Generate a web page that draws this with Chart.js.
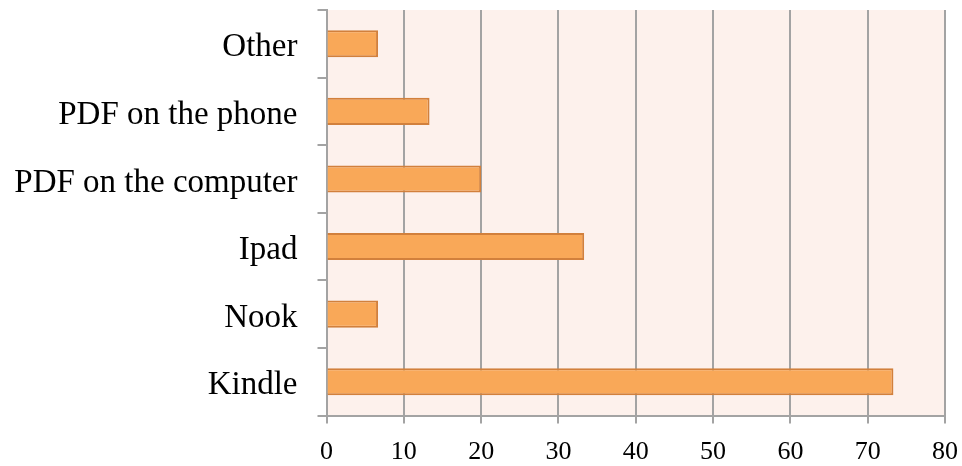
<!DOCTYPE html>
<html>
<head>
<meta charset="utf-8">
<script src="https://cdn.jsdelivr.net/npm/chart.js@4/dist/chart.umd.min.js"></script>
<style>
  html, body { margin: 0; padding: 0; background: #ffffff; }
  #wrap { width: 962px; height: 466px; }
</style>
</head>
<body>
<div id="wrap"><canvas id="c" width="962" height="466"></canvas></div>
<script>
// Reading devices, top to bottom
const categories = ['Other', 'PDF on the phone', 'PDF on the computer', 'Ipad', 'Nook', 'Kindle'];
// Share of readers (%)
const shares = [6.67, 13.33, 20, 33.33, 6.67, 73.33];
// Value axis
const axisMin = 0;
const axisMax = 80;
const axisStep = 10;

const plotBackground = {
  id: 'plotBackground',
  beforeDraw(chart) {
    const { ctx, chartArea: a } = chart;
    ctx.save();
    ctx.fillStyle = '#fdf1ec';
    ctx.fillRect(a.left, a.top, a.right - a.left, a.bottom - a.top);
    ctx.restore();
  }
};

new Chart(document.getElementById('c'), {
  type: 'bar',
  data: {
    labels: categories,
    datasets: [{
      data: shares,
      backgroundColor: '#f9a858',
      borderColor: '#d2803c',
      borderWidth: 2,
      barPercentage: 0.4,
      categoryPercentage: 1.0
    }]
  },
  options: {
    indexAxis: 'y',
    responsive: false,
    animation: false,
    layout: { padding: { top: 10, right: 17, left: 0, bottom: 0 } },
    plugins: {
      legend: { display: false },
      tooltip: { enabled: false }
    },
    scales: {
      x: {
        min: axisMin,
        max: axisMax,
        ticks: {
          stepSize: axisStep,
          color: '#000000',
          padding: 13,
          font: { family: 'Liberation Serif', size: 26 }
        },
        grid: {
          color: '#a3a3a3',
          lineWidth: 2,
          tickLength: 8
        },
        border: { color: '#a3a3a3', width: 2 },
        afterFit(scale) {
          scale.height = 50.5;
          scale.paddingLeft = 0;
          scale.paddingRight = 0;
        }
      },
      y: {
        ticks: {
          color: '#000000',
          padding: 20,
          labelOffset: 4,
          font: { family: 'Liberation Serif', size: 33 }
        },
        grid: {
          drawOnChartArea: false,
          color: '#a3a3a3',
          lineWidth: 2,
          tickLength: 9
        },
        border: { color: '#a3a3a3', width: 2 },
        afterFit(scale) {
          scale.width = 326.5;
          scale.paddingTop = 0;
          scale.paddingBottom = 0;
        }
      }
    }
  },
  plugins: [plotBackground]
});
</script>
</body>
</html>
